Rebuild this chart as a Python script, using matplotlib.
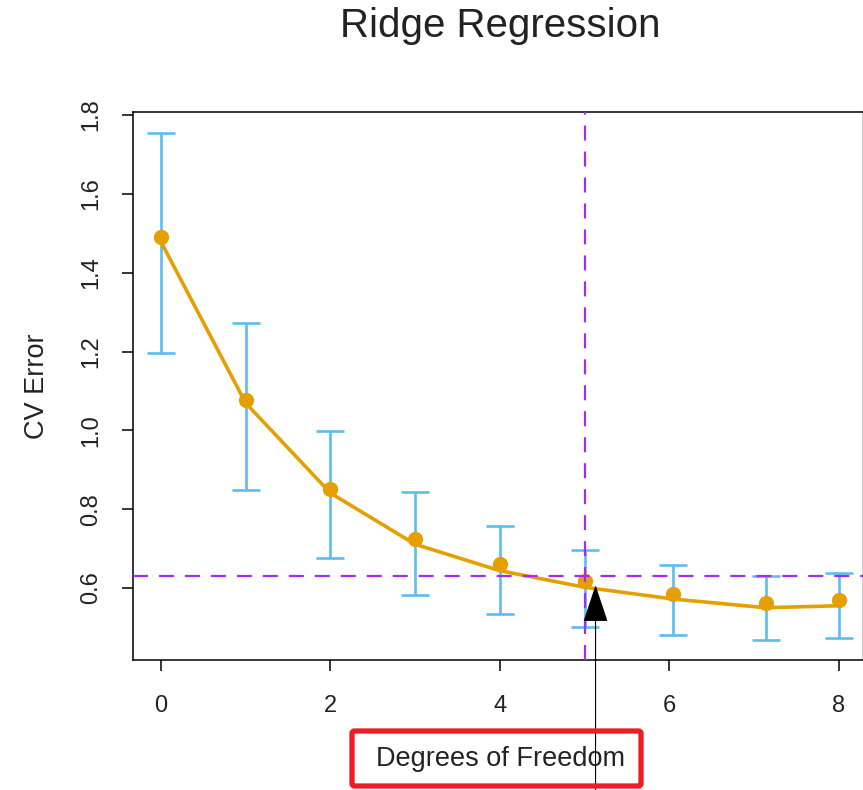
import matplotlib
matplotlib.use("Agg")
import matplotlib.pyplot as plt
import matplotlib.transforms as mtransforms
from matplotlib.patches import FancyBboxPatch

plt.rcParams['font.family'] = ['Liberation Sans', 'DejaVu Sans']
plt.rcParams['lines.scale_dashes'] = False

# Data
df = [0, 1, 2, 3, 4, 5, 6.05, 7.14, 8]
cv_err = [1.490, 1.077, 0.851, 0.724, 0.660, 0.617, 0.584, 0.562, 0.569]
err_hi = [1.754, 1.272, 0.998, 0.843, 0.757, 0.696, 0.658, 0.630, 0.637]
err_lo = [1.196, 0.848, 0.676, 0.582, 0.533, 0.501, 0.480, 0.469, 0.474]
smooth = [1.478, 1.069, 0.841, 0.711, 0.644, 0.602, 0.572, 0.550, 0.555]
best_df = 5.0
best_err = 0.631
arrow_df = 5.13
arrow_err = 0.607
xticks = [0, 2, 4, 6, 8]
yticks = [0.6, 0.8, 1.0, 1.2, 1.4, 1.6, 1.8]

W, H = 863, 790
fig = plt.figure(figsize=(W / 100, H / 100), dpi=100)
ax = fig.add_axes([133 / W, 1 - 660 / H, (862.5 - 133) / W, (660 - 111.5) / H])

orange = '#E69F00'
blue = '#5DBDEC'
purple = '#A52AF0'
txt = '#222222'

yerr = [[c - l for c, l in zip(cv_err, err_lo)], [h - c for c, h in zip(cv_err, err_hi)]]
ax.errorbar(df, cv_err, yerr=yerr, fmt='none', ecolor=blue, elinewidth=1.9,
            capsize=10, capthick=1.9, zorder=2)
ax.plot(df, smooth, color=orange, lw=2.6, zorder=3, solid_joinstyle='round')
ax.plot(df, cv_err, 'o', color=orange, ms=11, zorder=4, mec='none')

ax.axhline(best_err, color=purple, lw=1.6, dashes=(10.8, 7.9), zorder=5)
ax.axvline(best_df, color=purple, lw=1.6, dashes=(10.8, 7.9), zorder=5)

ax.set_xlim(-0.331, 8.282)
ax.set_ylim(0.4174, 1.8089)
ax.set_xticks(xticks)
ax.set_xticklabels([str(t) for t in xticks])
ax.set_yticks(yticks)
ax.set_yticklabels([f"{t:.1f}" for t in yticks], rotation=90, va='center')
ax.tick_params(axis='both', direction='out', length=8, width=1.1, labelsize=17,
               labelcolor=txt)
ax.tick_params(axis='x', pad=17)
ax.tick_params(axis='y', pad=14)
for s in ax.spines.values():
    s.set_linewidth(1.1)
ax.spines['right'].set_color('#bbbbbb')

fig.text(37 / W, 1 - 386 / H, 'CV Error', rotation=90, fontsize=19.5,
         ha='center', va='center', color=txt)
fig.text(500 / W, 1 - 26 / H, 'Ridge Regression', fontsize=29,
         ha='center', va='center', color=txt)
fig.text(500 / W, 1 - 759 / H, 'Degrees of Freedom', fontsize=19.5,
         ha='center', va='center', color=txt)

# red box around x label
box = FancyBboxPatch((352 / W, 1 - 786 / H), (641 - 352) / W, (786 - 731) / H,
                     boxstyle='round,pad=0,rounding_size=0.003',
                     transform=fig.transFigure, fill=False,
                     edgecolor='#EE1C25', lw=3.8, zorder=10)
fig.patches.append(box)

# arrow from bottom of figure to the point
trans = mtransforms.blended_transform_factory(ax.transData, fig.transFigure)
ax.annotate('', xy=(arrow_df, arrow_err), xycoords='data',
            xytext=(arrow_df, 0.0), textcoords=trans,
            arrowprops=dict(arrowstyle='-|>,head_length=1.2,head_width=0.4',
                            mutation_scale=20, color='black', lw=0.8,
                            shrinkA=0, shrinkB=0),
            annotation_clip=False, zorder=11)

fig.savefig('out.png', dpi=100)
